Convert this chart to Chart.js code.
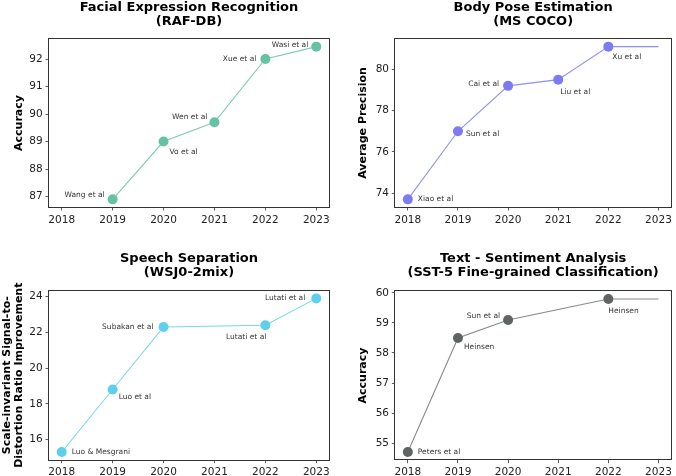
<!DOCTYPE html>
<html>
<head>
<meta charset="utf-8">
<script src="https://cdn.jsdelivr.net/npm/chart.js@4/dist/chart.umd.min.js"></script>
<style>
  body { margin: 0; background: #fff; width: 676px; height: 476px; position: relative; overflow: hidden; }
  canvas { position: absolute; }
</style>
</head>
<body>
<canvas id="fer"></canvas>
<canvas id="pose"></canvas>
<canvas id="speech"></canvas>
<canvas id="sst"></canvas>
<script>
// shared x axis
var yearTicks = [2018, 2019, 2020, 2021, 2022, 2023];

// Facial Expression Recognition (RAF-DB)
var ferYears = [2019, 2020, 2021, 2022, 2023];
var ferAcc = [86.9, 89.0, 89.7, 92.0, 92.45];
var ferAuthors = ['Wang et al', 'Vo et al', 'Wen et al', 'Xue et al', 'Wasi et al'];
var ferTicks = [87, 88, 89, 90, 91, 92];

// Body Pose Estimation (MS COCO) - last entry only extends the line
var poseYears = [2018, 2019, 2020, 2021, 2022, 2023];
var poseAP = [73.7, 77.0, 79.2, 79.5, 81.1, 81.1];
var poseAuthors = ['Xiao et al', 'Sun et al', 'Cai et al', 'Liu et al', 'Xu et al', ''];
var poseTicks = [74, 76, 78, 80];

// Speech Separation (WSJ0-2mix)
var speechYears = [2018, 2019, 2020, 2022, 2023];
var speechSISDR = [15.3, 18.8, 22.3, 22.4, 23.9];
var speechAuthors = ['Luo & Mesgrani', 'Luo et al', 'Subakan et al', 'Lutati et al', 'Lutati et al'];
var speechTicks = [16, 18, 20, 22, 24];

// Text - Sentiment Analysis (SST-5)
var sstYears = [2018, 2019, 2020, 2022, 2023];
var sstAcc = [54.7, 58.5, 59.1, 59.8, 59.8];
var sstAuthors = ['Peters et al', 'Heinsen', 'Sun et al', 'Heinsen', ''];
var sstTicks = [55, 56, 57, 58, 59, 60];

Chart.defaults.font.family = '"DejaVu Sans"';

// frame around the axes + text labels next to the points
var framePlugin = {
	id: 'frame',
	afterDatasetsDraw: function(chart) {
		var ctx = chart.ctx, a = chart.chartArea;
		var cfg = chart.options.plugins.frame;
		var meta = chart.getDatasetMeta(0);
		ctx.save();
		ctx.font = '7.5px "DejaVu Sans"';
		ctx.fillStyle = '#333';
		ctx.textBaseline = 'middle';
		meta.data.forEach(function(pt, i) {
			var txt = cfg.labels[i];
			if (!txt) return;
			var off = cfg.offsets[i];
			ctx.textAlign = off[2];
			ctx.fillText(txt, pt.x + off[0], pt.y + off[1]);
		});
		ctx.strokeStyle = '#333';
		ctx.lineWidth = 1;
		ctx.strokeRect(Math.round(a.left) - 0.5, Math.round(a.top) - 0.5,
			Math.round(a.right - a.left) + 1, Math.round(a.bottom - a.top) + 1);
		ctx.restore();
	}
};

function makeChart(id, o) {
	var cv = document.getElementById(id);
	cv.style.left = o.cl + 'px';
	cv.style.top = o.ct + 'px';
	cv.width = o.cw;
	cv.height = o.ch;

	var lo = Math.min.apply(null, o.y), hi = Math.max.apply(null, o.y);
	var m = (hi - lo) * 0.05;
	var pts = o.x.map(function(v, i) { return { x: v, y: o.y[i] }; });

	var tickGrid = { display: true, drawOnChartArea: false, drawTicks: true, tickLength: 3.5, color: '#333', lineWidth: 0.8 };

	return new Chart(cv, {
		type: 'line',
		data: {
			datasets: [{
				data: pts,
				borderColor: o.line,
				borderWidth: 1.1,
				pointBackgroundColor: o.color,
				pointBorderWidth: 0,
				pointRadius: o.labels.map(function(l) { return l ? 5 : 0; }),
				tension: 0
			}]
		},
		options: {
			responsive: false,
			animation: false,
			events: [],
			layout: { padding: { left: 0, top: 0, right: o.cl + o.cw - o.box[2], bottom: 0 } },
			plugins: {
				legend: { display: false },
				tooltip: { enabled: false },
				title: {
					display: true,
					text: o.title,
					fullSize: false,
					color: '#000',
					font: { size: 13, weight: 'bold', lineHeight: 14 / 13 },
					padding: { top: o.tp, bottom: o.box[1] - o.ct - o.tp - 28 }
				},
				frame: { labels: o.labels, offsets: o.offsets }
			},
			scales: {
				x: {
					type: 'linear',
					min: 2017.75,
					max: 2023.25,
					afterBuildTicks: function(s) { s.ticks = yearTicks.map(function(v) { return { value: v }; }); },
					afterFit: function(s) { s.height = o.ct + o.ch - o.box[3]; s.paddingLeft = 0; s.paddingRight = 0; },
					ticks: { callback: function(v) { return String(v); }, font: { size: 10.5 }, color: '#222', padding: 3, maxRotation: 0, autoSkip: false },
					grid: tickGrid,
					border: { display: false }
				},
				y: {
					min: lo - m,
					max: hi + m,
					afterBuildTicks: function(s) { s.ticks = o.yticks.map(function(v) { return { value: v }; }); },
					afterFit: function(s) { s.width = o.box[0] - o.cl; s.paddingTop = 0; s.paddingBottom = 0; },
					ticks: { callback: function(v) { return String(v); }, font: { size: 10.5 }, color: '#222', padding: 2.8, autoSkip: false },
					grid: tickGrid,
					border: { display: false },
					title: {
						display: true,
						text: o.ytitle,
						color: '#000',
						font: { size: 11, weight: 'bold', lineHeight: 1.1 },
						padding: { top: o.yp, bottom: 0 }
					}
				}
			}
		},
		plugins: [framePlugin]
	});
}

makeChart('fer', {
	cl: 0, ct: 0, cw: 338, ch: 238, tp: 1, box: [49, 39, 329, 207],
	x: ferYears, y: ferAcc, labels: ferAuthors, yticks: ferTicks,
	color: '#66c2a5', line: 'rgba(102,194,165,0.85)',
	title: ['Facial Expression Recognition', '(RAF-DB)'],
	ytitle: 'Accuracy', yp: 13,
	offsets: [[-8, -4, 'right'], [6, 10, 'left'], [-7, -5, 'right'], [-9, 0, 'right'], [-8, -2, 'right']]
});

makeChart('pose', {
	cl: 338, ct: 0, cw: 338, ch: 238, tp: 1, box: [395.3, 39, 675.3, 207],
	x: poseYears, y: poseAP, labels: poseAuthors, yticks: poseTicks,
	color: '#7b7cf3', line: 'rgba(123,124,243,0.85)',
	title: ['Body Pose Estimation', '(MS COCO)'],
	ytitle: 'Average Precision', yp: 19.5,
	offsets: [[10, 0, 'left'], [8, 3, 'left'], [-9, -2, 'right'], [2, 12, 'left'], [4, 10, 'left'], [0, 0, 'left']]
});

makeChart('speech', {
	cl: 0, ct: 250, cw: 338, ch: 226, tp: 2, box: [49, 290.7, 329, 459.7],
	x: speechYears, y: speechSISDR, labels: speechAuthors, yticks: speechTicks,
	color: '#5fcfee', line: 'rgba(95,207,238,0.85)',
	title: ['Speech Separation', '(WSJ0-2mix)'],
	ytitle: ['Scale-invariant Signal-to-', 'Distortion Ratio Improvement'], yp: 1,
	offsets: [[10, 0, 'left'], [6, 8, 'left'], [-10, 0, 'right'], [1, 12, 'right'], [-11, 0, 'right']]
});

makeChart('sst', {
	cl: 338, ct: 250, cw: 338, ch: 226, tp: 2, box: [395.3, 291.3, 675.3, 459.7],
	x: sstYears, y: sstAcc, labels: sstAuthors, yticks: sstTicks,
	color: '#5f6363', line: 'rgba(95,99,99,0.75)',
	title: ['Text - Sentiment Analysis', '(SST-5 Fine-grained Classification)'],
	ytitle: 'Accuracy', yp: 19.5,
	offsets: [[10, 0, 'left'], [6, 9, 'left'], [-8, -4, 'right'], [0, 12, 'left'], [0, 0, 'left']]
});
</script>
</body>
</html>
